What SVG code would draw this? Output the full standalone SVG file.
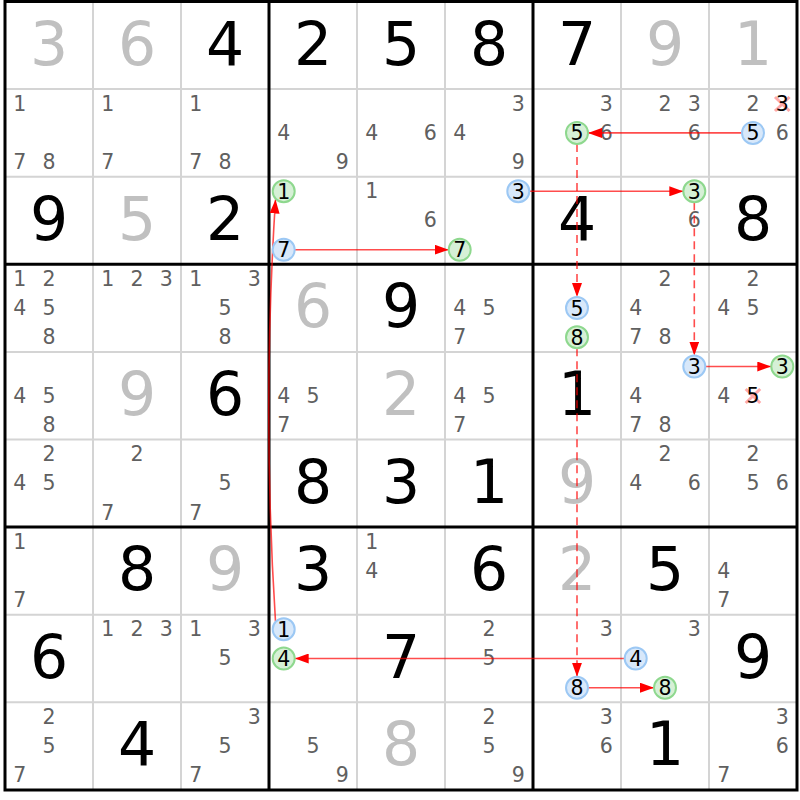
<svg xmlns="http://www.w3.org/2000/svg" width="800" height="800" viewBox="0 0 800 800">
<defs>
<style>
.thin{stroke:#d4d4d4;stroke-width:2}
.thick{stroke:#000;stroke-width:3}
text{font-family:"DejaVu Sans","Verdana",sans-serif;text-anchor:middle}
.g{font-size:60px;fill:#000}
.s{font-size:60px;fill:#c0c0c0}
.c{font-size:20.5px;fill:#606060}
.k{font-size:20.5px;fill:#000}
.cb{fill:#d8e8fa;stroke:#9cc8f4;stroke-width:2}
.cg{fill:#d6f0d6;stroke:#8ed88e;stroke-width:2}
.ln{fill:none;stroke:#f00;stroke-opacity:0.7;stroke-width:1.6}
.dash{stroke-dasharray:8 5}
.x{stroke:#ff7070;stroke-opacity:0.6;stroke-width:3}
</style>
<marker id="ah" viewBox="0 0 14 10" markerWidth="14" markerHeight="10" refX="14" refY="5" orient="auto" markerUnits="userSpaceOnUse">
<path d="M0,0 L14,5 L0,10 z" fill="#f00"/>
</marker>
</defs>
<rect width="800" height="800" fill="#fff"/>
<g id="grid">
<path class="thin" d="M93 1.5V790M181 1.5V790M357 1.5V790M445 1.5V790M621 1.5V790M709 1.5V790M5 89.1H797M5 176.7H797M5 351.9H797M5 439.5H797M5 614.7H797M5 702.3H797"/>
<path class="thick" d="M269 1.5V790M533 1.5V790M5 264.3H797M5 527.1H797"/>
<rect x="5" y="1.5" width="792" height="788.5" fill="none" stroke="#000" stroke-width="3"/>
</g>
<g id="values">
<text class="s" x="49" y="64.5">3</text><text class="s" x="137" y="64.5">6</text><text class="g" x="225" y="64.5">4</text><text class="g" x="313" y="64.5">2</text><text class="g" x="401" y="64.5">5</text><text class="g" x="489" y="64.5">8</text><text class="g" x="577" y="64.5">7</text><text class="s" x="665" y="64.5">9</text><text class="s" x="753" y="64.5">1</text>
<text class="g" x="49" y="239.7">9</text><text class="s" x="137" y="239.7">5</text><text class="g" x="225" y="239.7">2</text><text class="g" x="577" y="239.7">4</text><text class="g" x="753" y="239.7">8</text>
<text class="s" x="313" y="327.3">6</text><text class="g" x="401" y="327.3">9</text>
<text class="s" x="137" y="414.9">9</text><text class="g" x="225" y="414.9">6</text><text class="s" x="401" y="414.9">2</text><text class="g" x="577" y="414.9">1</text>
<text class="g" x="313" y="502.5">8</text><text class="g" x="401" y="502.5">3</text><text class="g" x="489" y="502.5">1</text><text class="s" x="577" y="502.5">9</text>
<text class="g" x="137" y="590.1">8</text><text class="s" x="225" y="590.1">9</text><text class="g" x="313" y="590.1">3</text><text class="g" x="489" y="590.1">6</text><text class="s" x="577" y="590.1">2</text><text class="g" x="665" y="590.1">5</text>
<text class="g" x="49" y="677.7">6</text><text class="g" x="401" y="677.7">7</text><text class="g" x="753" y="677.7">9</text>
<text class="g" x="137" y="765.3">4</text><text class="s" x="401" y="765.3">8</text><text class="g" x="665" y="765.3">1</text>
</g>
<g id="candidates">
<text class="c" x="19.7" y="110.6">1</text><text class="c" x="19.7" y="169.1">7</text><text class="c" x="49" y="169.1">8</text>
<text class="c" x="107.7" y="110.6">1</text><text class="c" x="107.7" y="169.1">7</text>
<text class="c" x="195.7" y="110.6">1</text><text class="c" x="195.7" y="169.1">7</text><text class="c" x="225" y="169.1">8</text>
<text class="c" x="283.7" y="139.8">4</text><text class="c" x="342.3" y="169.1">9</text>
<text class="c" x="371.7" y="139.8">4</text><text class="c" x="430.3" y="139.8">6</text>
<text class="c" x="518.3" y="110.6">3</text><text class="c" x="459.7" y="139.8">4</text><text class="c" x="518.3" y="169.1">9</text>
<text class="c" x="606.3" y="110.6">3</text><text class="c" x="606.3" y="139.8">6</text>
<text class="c" x="665" y="110.6">2</text><text class="c" x="694.3" y="110.6">3</text><text class="c" x="694.3" y="139.8">6</text>
<text class="c" x="753" y="110.6">2</text><text class="c" x="782.3" y="139.8">6</text>
<text class="c" x="371.7" y="198.2">1</text><text class="c" x="430.3" y="227.4">6</text>
<text class="c" x="694.3" y="227.4">6</text>
<text class="c" x="19.7" y="285.8">1</text><text class="c" x="49" y="285.8">2</text><text class="c" x="19.7" y="315">4</text><text class="c" x="49" y="315">5</text><text class="c" x="49" y="344.3">8</text>
<text class="c" x="107.7" y="285.8">1</text><text class="c" x="137" y="285.8">2</text><text class="c" x="166.3" y="285.8">3</text>
<text class="c" x="195.7" y="285.8">1</text><text class="c" x="254.3" y="285.8">3</text><text class="c" x="225" y="315">5</text><text class="c" x="225" y="344.3">8</text>
<text class="c" x="459.7" y="315">4</text><text class="c" x="489" y="315">5</text><text class="c" x="459.7" y="344.3">7</text>
<text class="c" x="665" y="285.8">2</text><text class="c" x="635.7" y="315">4</text><text class="c" x="635.7" y="344.3">7</text><text class="c" x="665" y="344.3">8</text>
<text class="c" x="753" y="285.8">2</text><text class="c" x="723.7" y="315">4</text><text class="c" x="753" y="315">5</text>
<text class="c" x="19.7" y="402.6">4</text><text class="c" x="49" y="402.6">5</text><text class="c" x="49" y="431.9">8</text>
<text class="c" x="283.7" y="402.6">4</text><text class="c" x="313" y="402.6">5</text><text class="c" x="283.7" y="431.9">7</text>
<text class="c" x="459.7" y="402.6">4</text><text class="c" x="489" y="402.6">5</text><text class="c" x="459.7" y="431.9">7</text>
<text class="c" x="635.7" y="402.6">4</text><text class="c" x="635.7" y="431.9">7</text><text class="c" x="665" y="431.9">8</text>
<text class="c" x="723.7" y="402.6">4</text>
<text class="c" x="49" y="461">2</text><text class="c" x="19.7" y="490.2">4</text><text class="c" x="49" y="490.2">5</text>
<text class="c" x="137" y="461">2</text><text class="c" x="107.7" y="519.5">7</text>
<text class="c" x="225" y="490.2">5</text><text class="c" x="195.7" y="519.5">7</text>
<text class="c" x="665" y="461">2</text><text class="c" x="635.7" y="490.2">4</text><text class="c" x="694.3" y="490.2">6</text>
<text class="c" x="753" y="461">2</text><text class="c" x="753" y="490.2">5</text><text class="c" x="782.3" y="490.2">6</text>
<text class="c" x="19.7" y="548.6">1</text><text class="c" x="19.7" y="607.1">7</text>
<text class="c" x="371.7" y="548.6">1</text><text class="c" x="371.7" y="577.8">4</text>
<text class="c" x="723.7" y="577.8">4</text><text class="c" x="723.7" y="607.1">7</text>
<text class="c" x="107.7" y="636.2">1</text><text class="c" x="137" y="636.2">2</text><text class="c" x="166.3" y="636.2">3</text>
<text class="c" x="195.7" y="636.2">1</text><text class="c" x="254.3" y="636.2">3</text><text class="c" x="225" y="665.4">5</text>
<text class="c" x="489" y="636.2">2</text><text class="c" x="489" y="665.4">5</text>
<text class="c" x="606.3" y="636.2">3</text>
<text class="c" x="694.3" y="636.2">3</text>
<text class="c" x="49" y="723.8">2</text><text class="c" x="49" y="753">5</text><text class="c" x="19.7" y="782.3">7</text>
<text class="c" x="254.3" y="723.8">3</text><text class="c" x="225" y="753">5</text><text class="c" x="195.7" y="782.3">7</text>
<text class="c" x="313" y="753">5</text><text class="c" x="342.3" y="782.3">9</text>
<text class="c" x="489" y="723.8">2</text><text class="c" x="489" y="753">5</text><text class="c" x="518.3" y="782.3">9</text>
<text class="c" x="606.3" y="723.8">3</text><text class="c" x="606.3" y="753">6</text>
<text class="c" x="782.3" y="723.8">3</text><text class="c" x="782.3" y="753">6</text><text class="c" x="723.7" y="782.3">7</text>
</g>
<g id="eliminations">
<path class="x" d="M775 97L789.5 111M789.5 97L775 111"/>
<text class="k" x="782.3" y="110.6">3</text>
<path class="x" d="M745.7 389L760.2 403M760.2 389L745.7 403"/>
<text class="k" x="753" y="402.6">5</text>
</g>
<g id="connectors">
<line class="ln" x1="742" y1="132.9" x2="588" y2="132.9" marker-end="url(#ah)"/>
<line class="ln dash" x1="577" y1="144" x2="577" y2="297" marker-end="url(#ah)"/>
<line class="ln" x1="529.3" y1="191.3" x2="683.3" y2="191.3" marker-end="url(#ah)"/>
<line class="ln dash" x1="694.3" y1="202.3" x2="694.3" y2="355.5" marker-end="url(#ah)"/>
<line class="ln" x1="705.3" y1="366.5" x2="771.3" y2="366.5" marker-end="url(#ah)"/>
<line class="ln dash" x1="577" y1="348.3" x2="577" y2="676.7" marker-end="url(#ah)"/>
<line class="ln" x1="588" y1="687.7" x2="654" y2="687.7" marker-end="url(#ah)"/>
<line class="ln" x1="624.7" y1="658.5" x2="294.7" y2="658.5" marker-end="url(#ah)"/>
<path class="ln" d="M275.5 621.5Q262 410 275.5 199.5" marker-end="url(#ah)"/>
<line class="ln" x1="294.7" y1="249.7" x2="448.7" y2="249.7" marker-end="url(#ah)"/>
</g>
<g id="n-r1c6-5"><circle class="cg" cx="577" cy="132.9" r="11"/><text class="k" x="577" y="140.3">5</text></g>
<g id="n-r1c8-5"><circle class="cb" cx="753" cy="132.9" r="11"/><text class="k" x="753" y="140.3">5</text></g>
<g id="n-r2c3-1"><circle class="cg" cx="283.7" cy="191.3" r="11"/><text class="k" x="283.7" y="198.7">1</text></g>
<g id="n-r2c3-7"><circle class="cb" cx="283.7" cy="249.7" r="11"/><text class="k" x="283.7" y="257.1">7</text></g>
<g id="n-r2c5-3"><circle class="cb" cx="518.3" cy="191.3" r="11"/><text class="k" x="518.3" y="198.7">3</text></g>
<g id="n-r2c5-7"><circle class="cg" cx="459.7" cy="249.7" r="11"/><text class="k" x="459.7" y="257.1">7</text></g>
<g id="n-r2c7-3"><circle class="cg" cx="694.3" cy="191.3" r="11"/><text class="k" x="694.3" y="198.7">3</text></g>
<g id="n-r3c6-5"><circle class="cb" cx="577" cy="308.1" r="11"/><text class="k" x="577" y="315.5">5</text></g>
<g id="n-r3c6-8"><circle class="cg" cx="577" cy="337.3" r="11"/><text class="k" x="577" y="344.7">8</text></g>
<g id="n-r4c7-3"><circle class="cb" cx="694.3" cy="366.5" r="11"/><text class="k" x="694.3" y="373.9">3</text></g>
<g id="n-r4c8-3"><circle class="cg" cx="782.3" cy="366.5" r="11"/><text class="k" x="782.3" y="373.9">3</text></g>
<g id="n-r7c3-1"><circle class="cb" cx="283.7" cy="629.3" r="11"/><text class="k" x="283.7" y="636.7">1</text></g>
<g id="n-r7c3-4"><circle class="cg" cx="283.7" cy="658.5" r="11"/><text class="k" x="283.7" y="665.9">4</text></g>
<g id="n-r7c6-8"><circle class="cb" cx="577" cy="687.7" r="11"/><text class="k" x="577" y="695.1">8</text></g>
<g id="n-r7c7-4"><circle class="cb" cx="635.7" cy="658.5" r="11"/><text class="k" x="635.7" y="665.9">4</text></g>
<g id="n-r7c7-8"><circle class="cg" cx="665" cy="687.7" r="11"/><text class="k" x="665" y="695.1">8</text></g>
</svg>
